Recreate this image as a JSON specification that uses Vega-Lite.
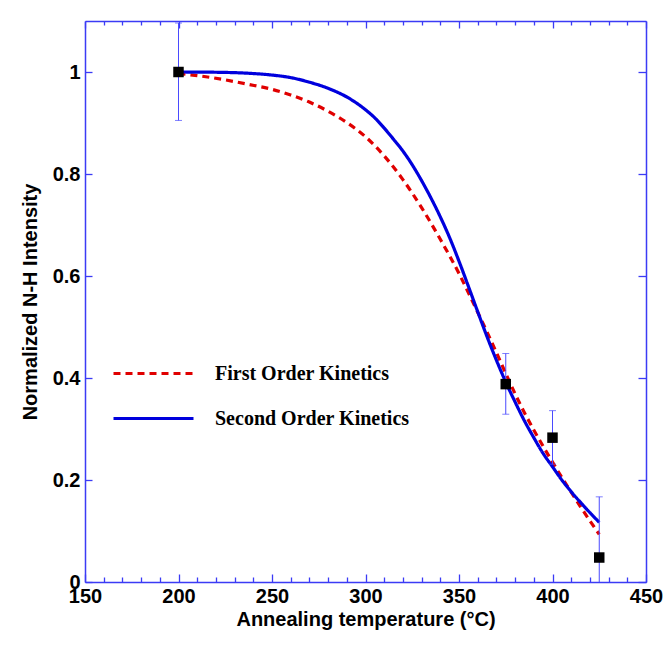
{
  "$schema": "https://vega.github.io/schema/vega-lite/v6.json",
  "width": 561,
  "height": 561,
  "autosize": "none",
  "padding": {"left": 85, "top": 21, "right": 19, "bottom": 65},
  "background": "white",
  "config": {
    "view": {"stroke": null},
    "axis": {
      "domainColor": "#3b3bf5",
      "domainWidth": 1.5,
      "tickColor": "#3b3bf5",
      "tickWidth": 1.3,
      "grid": false,
      "labelFont": "Liberation Sans",
      "labelFontWeight": "bold",
      "labelFontSize": 20,
      "labelColor": "#000000",
      "titleFont": "Liberation Sans",
      "titleFontWeight": "bold",
      "titleFontSize": 20,
      "titleColor": "#000000"
    }
  },
  "datasets": {
    "curves": [
      {"series": "First Order Kinetics", "T": 200, "v": 0.997},
      {"series": "First Order Kinetics", "T": 212, "v": 0.992},
      {"series": "First Order Kinetics", "T": 225, "v": 0.9845},
      {"series": "First Order Kinetics", "T": 237, "v": 0.976},
      {"series": "First Order Kinetics", "T": 250, "v": 0.966},
      {"series": "First Order Kinetics", "T": 260, "v": 0.955},
      {"series": "First Order Kinetics", "T": 270, "v": 0.941},
      {"series": "First Order Kinetics", "T": 280, "v": 0.923},
      {"series": "First Order Kinetics", "T": 290, "v": 0.901},
      {"series": "First Order Kinetics", "T": 300, "v": 0.873},
      {"series": "First Order Kinetics", "T": 310, "v": 0.8355},
      {"series": "First Order Kinetics", "T": 320, "v": 0.789},
      {"series": "First Order Kinetics", "T": 330, "v": 0.734},
      {"series": "First Order Kinetics", "T": 340, "v": 0.672},
      {"series": "First Order Kinetics", "T": 350, "v": 0.605},
      {"series": "First Order Kinetics", "T": 355, "v": 0.5675},
      {"series": "First Order Kinetics", "T": 360, "v": 0.529},
      {"series": "First Order Kinetics", "T": 365, "v": 0.490},
      {"series": "First Order Kinetics", "T": 370, "v": 0.450},
      {"series": "First Order Kinetics", "T": 375, "v": 0.409},
      {"series": "First Order Kinetics", "T": 380, "v": 0.369},
      {"series": "First Order Kinetics", "T": 385, "v": 0.332},
      {"series": "First Order Kinetics", "T": 390, "v": 0.298},
      {"series": "First Order Kinetics", "T": 395, "v": 0.266},
      {"series": "First Order Kinetics", "T": 400, "v": 0.235},
      {"series": "First Order Kinetics", "T": 405, "v": 0.205},
      {"series": "First Order Kinetics", "T": 410, "v": 0.176},
      {"series": "First Order Kinetics", "T": 415, "v": 0.1475},
      {"series": "First Order Kinetics", "T": 420, "v": 0.120},
      {"series": "First Order Kinetics", "T": 425, "v": 0.0935},
      {"series": "Second Order Kinetics", "T": 200, "v": 1.000},
      {"series": "Second Order Kinetics", "T": 220, "v": 0.9995},
      {"series": "Second Order Kinetics", "T": 240, "v": 0.997},
      {"series": "Second Order Kinetics", "T": 250, "v": 0.994},
      {"series": "Second Order Kinetics", "T": 260, "v": 0.989},
      {"series": "Second Order Kinetics", "T": 270, "v": 0.980},
      {"series": "Second Order Kinetics", "T": 280, "v": 0.968},
      {"series": "Second Order Kinetics", "T": 290, "v": 0.951},
      {"series": "Second Order Kinetics", "T": 300, "v": 0.926},
      {"series": "Second Order Kinetics", "T": 305, "v": 0.910},
      {"series": "Second Order Kinetics", "T": 310, "v": 0.890},
      {"series": "Second Order Kinetics", "T": 315, "v": 0.868},
      {"series": "Second Order Kinetics", "T": 320, "v": 0.845},
      {"series": "Second Order Kinetics", "T": 325, "v": 0.818},
      {"series": "Second Order Kinetics", "T": 330, "v": 0.787},
      {"series": "Second Order Kinetics", "T": 335, "v": 0.753},
      {"series": "Second Order Kinetics", "T": 340, "v": 0.716},
      {"series": "Second Order Kinetics", "T": 345, "v": 0.675},
      {"series": "Second Order Kinetics", "T": 350, "v": 0.629},
      {"series": "Second Order Kinetics", "T": 355, "v": 0.580},
      {"series": "Second Order Kinetics", "T": 360, "v": 0.530},
      {"series": "Second Order Kinetics", "T": 365, "v": 0.481},
      {"series": "Second Order Kinetics", "T": 370, "v": 0.435},
      {"series": "Second Order Kinetics", "T": 375, "v": 0.392},
      {"series": "Second Order Kinetics", "T": 380, "v": 0.353},
      {"series": "Second Order Kinetics", "T": 385, "v": 0.316},
      {"series": "Second Order Kinetics", "T": 390, "v": 0.283},
      {"series": "Second Order Kinetics", "T": 395, "v": 0.252},
      {"series": "Second Order Kinetics", "T": 400, "v": 0.226},
      {"series": "Second Order Kinetics", "T": 405, "v": 0.200},
      {"series": "Second Order Kinetics", "T": 410, "v": 0.177},
      {"series": "Second Order Kinetics", "T": 415, "v": 0.156},
      {"series": "Second Order Kinetics", "T": 420, "v": 0.136},
      {"series": "Second Order Kinetics", "T": 425, "v": 0.117}
    ],
    "points": [
      {"T": 200, "v": 1.0, "lo": 0.905, "hi": 1.096},
      {"T": 375, "v": 0.388, "lo": 0.329, "hi": 0.448},
      {"T": 400, "v": 0.283, "lo": 0.231, "hi": 0.336},
      {"T": 425, "v": 0.048, "lo": -0.071, "hi": 0.167}
    ]
  },
  "layer": [
    {
      "data": {"name": "curves"},
      "mark": {"type": "line", "strokeWidth": 3.2, "interpolate": "monotone"},
      "encoding": {
        "x": {
          "field": "T", "type": "quantitative",
          "scale": {"domain": [150, 450], "nice": false, "zero": false},
          "axis": {
            "orient": "bottom",
            "values": [150,160,170,180,190,200,210,220,230,240,250,260,270,280,290,300,310,320,330,340,350,360,370,380,390,400,410,420,430,440,450],
            "labelExpr": "datum.value % 50 === 0 ? datum.label : ''",
            "labelFlush": false,
            "labelOverlap": false,
            "tickSize": {"condition": {"test": "datum.value % 50 === 0", "value": -8}, "value": -5},
            "labelPadding": 12,
            "title": "Annealing temperature (°C)",
            "titlePadding": 0
          }
        },
        "y": {
          "field": "v", "type": "quantitative",
          "scale": {"domain": [0, 1.1], "nice": false},
          "axis": {
            "orient": "left",
            "values": [0, 0.2, 0.4, 0.6, 0.8, 1],
            "format": ".1~f",
            "tickSize": -7,
            "labelPadding": 12,
            "title": "Normalized N-H Intensity",
            "titlePadding": 12
          }
        },
        "color": {
          "field": "series", "type": "nominal",
          "scale": {"domain": ["First Order Kinetics", "Second Order Kinetics"], "range": ["#e00000", "#0000dd"]},
          "legend": {
            "orient": "none",
            "legendX": 57,
            "legendY": 341,
            "title": null,
            "padding": 0,
            "symbolType": "M-4,0H4",
            "symbolSize": 400,
            "symbolStrokeWidth": 3,
            "labelFont": "Liberation Serif",
            "labelFontSize": 20,
            "labelFontWeight": "bold",
            "labelColor": "#000000",
            "labelOffset": 50,
            "labelLimit": 400,
            "rowPadding": 23
          }
        },
        "strokeDash": {
          "field": "series", "type": "nominal",
          "scale": {"domain": ["First Order Kinetics", "Second Order Kinetics"], "range": [[7, 5], [1, 0]]}
        }
      }
    },
    {
      "data": {"name": "points"},
      "mark": {"type": "errorbar", "clip": true, "color": "#4a4aff", "thickness": 1, "ticks": {"size": 7, "thickness": 1}},
      "encoding": {
        "x": {"field": "T", "type": "quantitative", "scale": {"domain": [150, 450], "nice": false, "zero": false}, "axis": null},
        "y": {"field": "lo", "type": "quantitative", "scale": {"domain": [0, 1.1], "nice": false}, "axis": null},
        "y2": {"field": "hi"}
      }
    },
    {
      "data": {"name": "points"},
      "mark": {"type": "point", "shape": "square", "filled": true, "color": "#000000", "size": 110, "opacity": 1},
      "encoding": {
        "x": {
          "field": "T", "type": "quantitative",
          "scale": {"domain": [150, 450], "nice": false, "zero": false},
          "axis": {
            "orient": "top",
            "values": [150,160,170,180,190,200,210,220,230,240,250,260,270,280,290,300,310,320,330,340,350,360,370,380,390,400,410,420,430,440,450],
            "labels": false,
            "title": null,
            "tickSize": {"condition": {"test": "datum.value % 50 === 0", "value": -7}, "value": -4}
          }
        },
        "y": {
          "field": "v", "type": "quantitative",
          "scale": {"domain": [0, 1.1], "nice": false},
          "axis": {
            "orient": "right",
            "values": [0, 0.2, 0.4, 0.6, 0.8, 1],
            "labels": false,
            "title": null,
            "tickSize": -8
          }
        }
      }
    }
  ],
  "resolve": {"axis": {"x": "independent", "y": "independent"}}
}
